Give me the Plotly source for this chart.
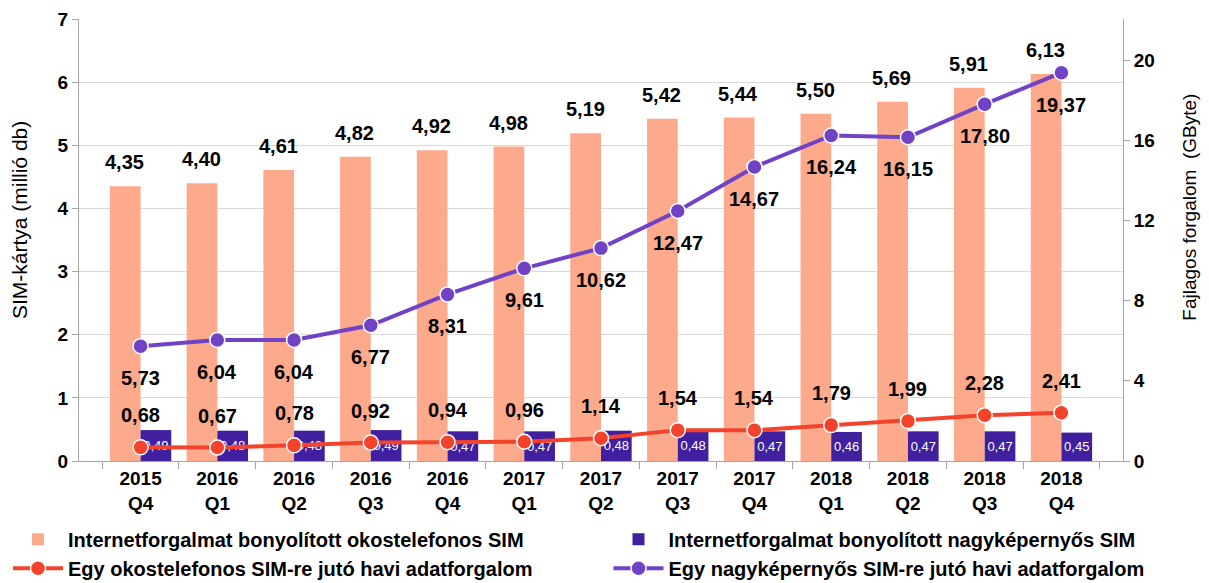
import plotly.graph_objects as go

categories = ["2015<br>Q4", "2016<br>Q1", "2016<br>Q2", "2016<br>Q3", "2016<br>Q4",
              "2017<br>Q1", "2017<br>Q2", "2017<br>Q3", "2017<br>Q4",
              "2018<br>Q1", "2018<br>Q2", "2018<br>Q3", "2018<br>Q4"]
smartphone_sim = [4.35, 4.40, 4.61, 4.82, 4.92, 4.98, 5.19, 5.42, 5.44, 5.50, 5.69, 5.91, 6.13]
largescreen_sim = [0.49, 0.48, 0.48, 0.49, 0.47, 0.47, 0.48, 0.48, 0.47, 0.46, 0.47, 0.47, 0.45]
smartphone_traffic = [0.68, 0.67, 0.78, 0.92, 0.94, 0.96, 1.14, 1.54, 1.54, 1.79, 1.99, 2.28, 2.41]
largescreen_traffic = [5.73, 6.04, 6.04, 6.77, 8.31, 9.61, 10.62, 12.47, 14.67, 16.24, 16.15, 17.80, 19.37]

names = ["Internetforgalmat bonyolított okostelefonos SIM",
         "Internetforgalmat bonyolított nagyképernyős SIM",
         "Egy okostelefonos SIM-re jutó havi adatforgalom",
         "Egy nagyképernyős SIM-re jutó havi adatforgalom"]
left_title = "SIM-kártya (millió db)"
right_title = "Fajlagos forgalom  (GByte)"

def hu(v):
    return f"{v:.2f}".replace(".", ",")

C_ORANGE = "#FDA98B"
C_PURPLE_BAR = "#4120A0"
C_RED = "#F4432C"
C_PURPLE_LINE = "#7042C6"
FONT = "Liberation Sans"

fig = go.Figure()
fig.add_trace(go.Bar(x=categories, y=smartphone_sim, name=names[0], legend="legend",
                     marker=dict(color=C_ORANGE, line=dict(width=0))))
fig.add_trace(go.Bar(x=categories, y=largescreen_sim, name=names[1], legend="legend2",
                     marker=dict(color=C_PURPLE_BAR, line=dict(width=0)),
                     text=[hu(v) for v in largescreen_sim], textposition="inside",
                     insidetextanchor="middle", textangle=0, constraintext="none",
                     textfont=dict(color="white", size=13, family=FONT)))
fig.add_trace(go.Scatter(x=categories, y=smartphone_traffic, name=names[2], yaxis="y2",
                         legend="legend", mode="lines+markers",
                         line=dict(color=C_RED, width=4),
                         marker=dict(size=15, color=C_RED, line=dict(color="white", width=1.5))))
fig.add_trace(go.Scatter(x=categories, y=largescreen_traffic, name=names[3], yaxis="y2",
                         legend="legend2", mode="lines+markers",
                         line=dict(color=C_PURPLE_LINE, width=4),
                         marker=dict(size=15, color=C_PURPLE_LINE, line=dict(color="white", width=1.5))))

annotations = []
lab_font = dict(family=FONT, size=20, color="black", weight="bold")
for c, v in zip(categories, smartphone_sim):
    annotations.append(dict(x=c, y=v, xref="x", yref="y", text=hu(v),
                            showarrow=False, yanchor="bottom", xshift=-16, yshift=11,
                            font=lab_font))
for c, v in zip(categories, smartphone_traffic):
    annotations.append(dict(x=c, y=v, xref="x", yref="y2", text=hu(v),
                            showarrow=False, yanchor="bottom", yshift=19, font=lab_font))
for c, v in zip(categories, largescreen_traffic):
    annotations.append(dict(x=c, y=v, xref="x", yref="y2", text=hu(v),
                            showarrow=False, yanchor="top", yshift=-19, font=lab_font))
# axis titles
annotations.append(dict(x=-0.0575, y=0.545, xref="paper", yref="paper", text=left_title,
                        textangle=-90, showarrow=False, xanchor="center", yanchor="middle",
                        font=dict(size=21, family=FONT, color="black")))
annotations.append(dict(x=1.064, y=0.575, xref="paper", yref="paper", text=right_title,
                        textangle=-90, showarrow=False, xanchor="center", yanchor="middle",
                        font=dict(size=19, family=FONT, color="black")))

axis_line = "#A6A6A6"
tick_font = dict(size=19, family=FONT, weight="bold", color="black")
legend_font = dict(size=20, family=FONT, weight="bold", color="black")
# page body has an 8px margin: figure is sized so it fits the 1209x583 window
fig.update_layout(
    width=1201, height=575,
    margin=dict(l=71, r=86, t=11, b=122, autoexpand=False),
    plot_bgcolor="white", paper_bgcolor="white",
    barmode="group", bargap=0.2, bargroupgap=0,
    font=dict(family=FONT, color="black"),
    xaxis=dict(type="category", showline=True, linecolor=axis_line, linewidth=1,
               ticks="outside", tickson="boundaries", ticklen=7, tickcolor=axis_line,
               tickfont=tick_font, showgrid=False, automargin=False),
    yaxis=dict(range=[0, 7], dtick=1, showline=True, linecolor=axis_line,
               ticks="outside", ticklen=6, tickcolor=axis_line,
               gridcolor="#D9D9D9", gridwidth=1, zeroline=False,
               tickfont=tick_font, automargin=False),
    yaxis2=dict(range=[0, 22.05], dtick=4, overlaying="y", side="right", showgrid=False,
                showline=True, linecolor=axis_line, ticks="outside", ticklen=6,
                tickcolor=axis_line, zeroline=False, automargin=False,
                tickfont=tick_font),
    legend=dict(orientation="v", xref="container", yref="container", x=0.0, y=0.11,
                xanchor="left", yanchor="top", font=legend_font, itemwidth=50,
                traceorder="normal", bgcolor="rgba(0,0,0,0)"),
    legend2=dict(orientation="v", xref="container", yref="container", x=0.5, y=0.11,
                 xanchor="left", yanchor="top", font=legend_font, itemwidth=50,
                 traceorder="normal", bgcolor="rgba(0,0,0,0)"),
    annotations=annotations,
)
fig.write_html("out.html")
